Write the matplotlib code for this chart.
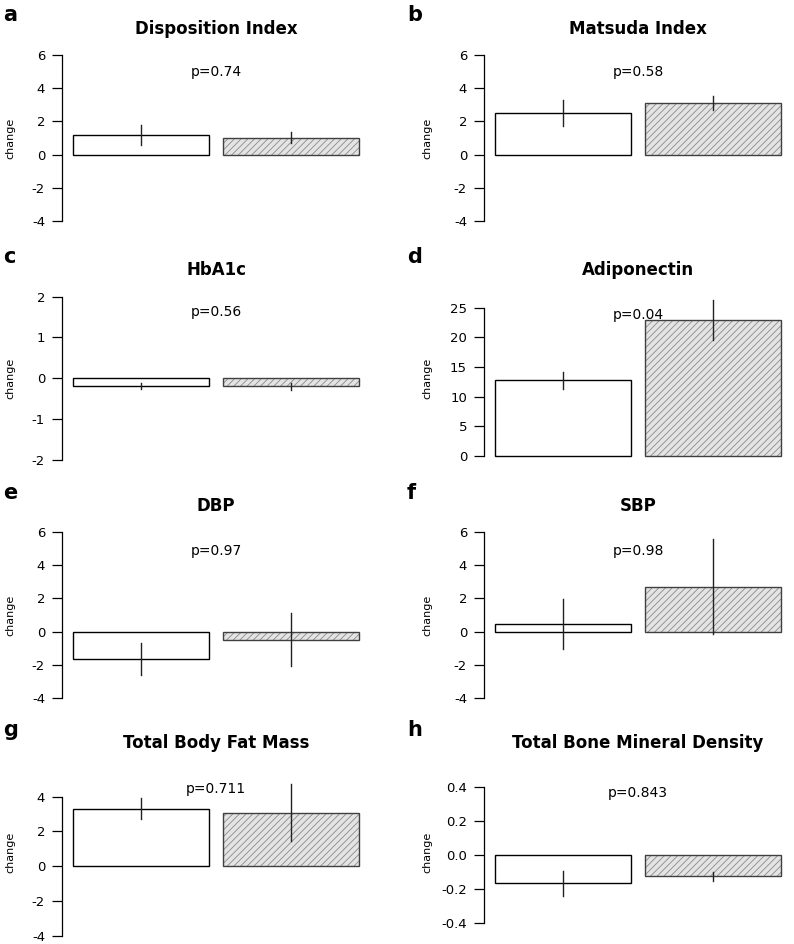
import numpy as np
import matplotlib
matplotlib.use("Agg")
import matplotlib.pyplot as plt

# ---------------- data ----------------
letters = ["a", "b", "c", "d", "e", "f", "g", "h"]
titles = ["Disposition Index", "Matsuda Index", "HbA1c", "Adiponectin",
          "DBP", "SBP", "Total Body Fat Mass", "Total Bone Mineral Density"]
p_labels = ["p=0.74", "p=0.58", "p=0.56", "p=0.04",
            "p=0.97", "p=0.98", "p=0.711", "p=0.843"]
p_y = [4.95, 4.95, 1.62, 23.8, 4.9, 4.9, 4.47, 0.363]

group1_mean = [1.18, 2.51, -0.20, 12.76, -1.65, 0.46, 3.32, -0.169]
group1_se = [0.60, 0.78, 0.075, 1.42, 0.98, 1.53, 0.63, 0.072]
group2_mean = [1.02, 3.11, -0.20, 22.93, -0.50, 2.72, 3.09, -0.128]
group2_se = [0.33, 0.45, 0.09, 3.30, 1.60, 2.89, 1.63, 0.025]

yticks = [np.arange(-4, 7, 2), np.arange(-4, 7, 2), np.arange(-2, 3, 1),
          np.arange(0, 26, 5), np.arange(-4, 7, 2), np.arange(-4, 7, 2),
          np.arange(-4, 5, 2), np.round(np.arange(-0.4, 0.41, 0.2), 1)]
ytick_fmt = ["{:.0f}"] * 7 + ["{:.1f}"]
ylims = [(-4.4, 6.4), (-4.4, 6.4), (-2.16, 2.16), (-1.77, 27.98),
         (-4.4, 6.4), (-4.4, 6.4), (-4.36, 5.94), (-0.514, 0.539)]

# ---------------- layout (pixels) ----------------
W, H = 794, 944
col_left = [62, 484]
box_w = 308
rows = [(48.4, 227.6), (290, 466.5), (525.7, 704.3), (763, 942)]

plt.rcParams["axes.unicode_minus"] = False
plt.rcParams["hatch.linewidth"] = 0.6
plt.rcParams["font.family"] = "DejaVu Sans"

fig = plt.figure(figsize=(W / 100, H / 100), dpi=100)

for i in range(8):
    r, c = divmod(i, 2)
    top, bot = rows[r]
    L = col_left[c]
    ax = fig.add_axes([L / W, 1 - bot / H, box_w / W, (bot - top) / H])

    x = [0.6, 1.7]
    # plain bar
    ax.bar(x[0], group1_mean[i], width=1.0, facecolor="white",
           edgecolor="black", linewidth=1.0, zorder=2)
    # hatched bar: fill + hatch first, outline on top
    ax.bar(x[1], group2_mean[i], width=1.0, facecolor="#e4e4e4",
           edgecolor="#8a8a8a", hatch="/////", linewidth=0, zorder=2)
    ax.bar(x[1], group2_mean[i], width=1.0, facecolor="none",
           edgecolor="#404040", linewidth=1.0, zorder=3)

    means = [group1_mean[i], group2_mean[i]]
    ses = [group1_se[i], group2_se[i]]
    for xx, m, s in zip(x, means, ses):
        ax.plot([xx, xx], [m - s, m + s], color="#222222", lw=1.0, zorder=4)

    ax.text(1.15, p_y[i], p_labels[i], ha="center", va="center",
            fontsize=10, zorder=5)

    ax.set_xlim(0.016, 2.284)
    ax.set_ylim(*ylims[i])
    ax.set_yticks(yticks[i])
    ax.set_yticklabels([ytick_fmt[i].format(v) for v in yticks[i]])
    ax.set_xticks([])
    for s in ["top", "right", "bottom"]:
        ax.spines[s].set_visible(False)
    ax.spines["left"].set_bounds(yticks[i][0], yticks[i][-1])
    ax.spines["left"].set_linewidth(0.9)
    ax.tick_params(axis="y", direction="out", length=7.2, width=0.9,
                   pad=5, labelsize=9.5)

    ax.set_ylabel("change", fontsize=8)
    ax.yaxis.set_label_coords(-0.153 if c == 0 else -0.169, 0.5)

    ax.set_title(titles[i], fontsize=12, fontweight="bold", pad=10.5)

    fig.text((3 if c == 0 else 407) / W, 1 - (top - 27) / H, letters[i],
             fontsize=15, fontweight="bold", ha="left", va="baseline")

fig.savefig("out.png", dpi=100)
